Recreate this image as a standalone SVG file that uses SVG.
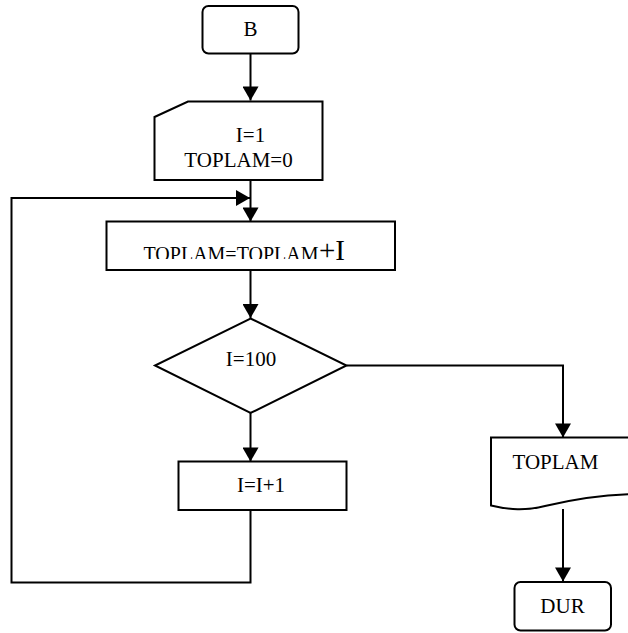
<svg xmlns="http://www.w3.org/2000/svg" width="628" height="633" viewBox="0 0 628 633">
  <style>
    .shape { fill: #ffffff; stroke: #000000; stroke-width: 2; }
    .wire { fill: none; stroke: #000000; stroke-width: 2; }
    .label { font-family: "Liberation Serif", "Times New Roman", serif; font-size: 21px; fill: #000000; }
  </style>
  <defs>
    <marker id="arrow" markerUnits="userSpaceOnUse" markerWidth="16" markerHeight="16" viewBox="0 0 16 16" refX="15" refY="8" orient="auto">
      <path d="M1,0 L15,8 L1,16 Z" fill="#000000"/>
    </marker>
    <clipPath id="sumClip">
      <rect x="100" y="230" width="300" height="29"/>
    </clipPath>
  </defs>
  <rect width="628" height="633" fill="#ffffff"/>

  <!-- connectors -->
  <g id="connectors">
    <path class="wire" d="M250.5,53.5 V100.5" marker-end="url(#arrow)"/>
    <path class="wire" d="M250.5,180 V221.5" marker-end="url(#arrow)"/>
    <path class="wire" d="M250.5,270 V318" marker-end="url(#arrow)"/>
    <path class="wire" d="M250.5,413 V461.5" marker-end="url(#arrow)"/>
    <path class="wire" d="M346.5,365.5 H563 V437.5" marker-end="url(#arrow)"/>
    <path class="wire" d="M563,509 V581.5" marker-end="url(#arrow)"/>
    <path class="wire" d="M250.5,510 V582.5 H11.5 V198 H250" marker-end="url(#arrow)"/>
  </g>

  <!-- start terminal -->
  <g id="start">
    <rect class="shape" x="202.5" y="6" width="96" height="47.5" rx="6"/>
    <text class="label" x="250.5" y="36" text-anchor="middle">B</text>
  </g>

  <!-- manual input -->
  <g id="init">
    <path class="shape" d="M154.5,117 L188,101.5 L322.5,101.5 L322.5,180 L154.5,180 Z"/>
    <text class="label" x="250.5" y="141.5" text-anchor="middle">I=1</text>
    <text class="label" x="238.5" y="166.5" text-anchor="middle">TOPLAM=0</text>
  </g>

  <!-- accumulate -->
  <g id="sum">
    <rect class="shape" x="106.5" y="221.5" width="288.5" height="48.5"/>
    <text class="label" x="143.5" y="261" clip-path="url(#sumClip)" style="font-size:20px">TOPLAM=TOPLAM</text>
    <text class="label" x="319" y="260" style="font-size:29px">+I</text>
  </g>

  <!-- decision -->
  <g id="check">
    <path class="shape" d="M250.5,318.5 L346.5,365.5 L250.5,413 L155,365.5 Z"/>
    <text class="label" x="251" y="365.5" text-anchor="middle">I=100</text>
  </g>

  <!-- increment -->
  <g id="inc">
    <rect class="shape" x="178.5" y="461.5" width="168" height="48.5"/>
    <text class="label" x="261" y="492" text-anchor="middle">I=I+1</text>
  </g>

  <!-- output document -->
  <g id="print">
    <path class="shape" d="M491,437.5 L640,437.5 L640,494 C600,494 570,500 545,506 C525,511 510,510 491,505.5 Z"/>
    <text class="label" x="512.5" y="469">TOPLAM</text>
  </g>

  <!-- end terminal -->
  <g id="end">
    <rect class="shape" x="514.5" y="582" width="96.5" height="48.5" rx="6"/>
    <text class="label" x="562.5" y="613" text-anchor="middle">DUR</text>
  </g>
</svg>
